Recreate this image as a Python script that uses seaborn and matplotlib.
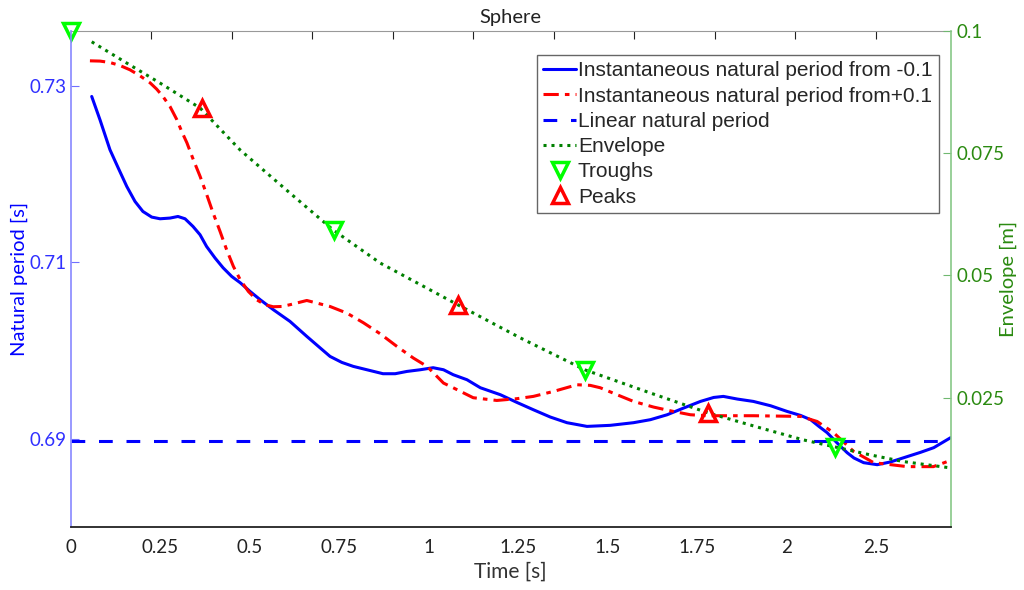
import numpy as np
import seaborn as sns
import matplotlib
matplotlib.use('Agg')
import matplotlib.pyplot as plt

# Instantaneous natural period starting from -0.1
t_neg = [0.058, 0.0811, 0.109, 0.1323, 0.156, 0.179, 0.201, 0.2257, 0.249, 0.2768,
         0.299, 0.3188, 0.341, 0.3607, 0.379, 0.4027, 0.425, 0.4493, 0.473, 0.5006,
         0.529, 0.5657, 0.612, 0.659, 0.6916, 0.724, 0.757, 0.789, 0.8269, 0.872,
         0.906, 0.939, 0.976, 1.012, 1.041, 1.068, 1.1066, 1.144, 1.200, 1.246,
         1.292, 1.3395, 1.386, 1.442, 1.507, 1.572, 1.619, 1.666, 1.712, 1.759,
         1.796, 1.823, 1.862, 1.907, 1.955, 2.001, 2.039, 2.067, 2.090, 2.113,
         2.141, 2.169, 2.188, 2.215, 2.253, 2.290, 2.327, 2.374, 2.411, 2.458]
T_neg = [0.72879, 0.72615, 0.72275, 0.72067, 0.71859, 0.71689, 0.71576, 0.71512, 0.71493, 0.71501,
         0.71519, 0.71493, 0.71406, 0.71312, 0.71179, 0.71048, 0.70938, 0.70839, 0.70768, 0.70669,
         0.70575, 0.70462, 0.70330, 0.70160, 0.70046, 0.69933, 0.69865, 0.69820, 0.69782, 0.69737,
         0.69737, 0.69763, 0.69782, 0.69805, 0.69782, 0.69726, 0.69669, 0.69578, 0.69499, 0.69412,
         0.69329, 0.69246, 0.69182, 0.69140, 0.69152, 0.69182, 0.69216, 0.69272, 0.69348, 0.69423,
         0.69468, 0.69480, 0.69450, 0.69423, 0.69374, 0.69310, 0.69264, 0.69216, 0.69140, 0.69069,
         0.68952, 0.68842, 0.68782, 0.68729, 0.68706, 0.68737, 0.68785, 0.68846, 0.68899, 0.69012]

# Instantaneous natural period starting from +0.1
t_pos = [0.053, 0.0811, 0.109, 0.137, 0.165, 0.193, 0.221, 0.2396, 0.257, 0.2768,
         0.296, 0.3095, 0.324, 0.342, 0.361, 0.3795, 0.397, 0.4167, 0.435, 0.4539,
         0.473, 0.4958, 0.519, 0.5425, 0.565, 0.5892, 0.612, 0.659, 0.724, 0.771,
         0.817, 0.864, 0.911, 0.957, 0.995, 1.041, 1.068, 1.124, 1.190, 1.246,
         1.292, 1.349, 1.414, 1.451, 1.479, 1.526, 1.572, 1.628, 1.683, 1.731,
         1.778, 1.907, 2.039, 2.085, 2.131, 2.187, 2.243, 2.337, 2.410, 2.458]
T_pos = [0.73283, 0.73280, 0.73264, 0.73230, 0.73181, 0.73113, 0.73034, 0.72962, 0.72879, 0.72765,
         0.72615, 0.72482, 0.72354, 0.72162, 0.71972, 0.71765, 0.71561, 0.71349, 0.71142, 0.70953,
         0.70802, 0.70669, 0.70575, 0.70519, 0.70496, 0.70499, 0.70519, 0.70567, 0.70499, 0.70424,
         0.70315, 0.70190, 0.70046, 0.69914, 0.69820, 0.69631, 0.69578, 0.69465, 0.69434, 0.69454,
         0.69480, 0.69537, 0.69612, 0.69605, 0.69578, 0.69499, 0.69423, 0.69359, 0.69310, 0.69272,
         0.69261, 0.69261, 0.69253, 0.69196, 0.69069, 0.68857, 0.68729, 0.68684, 0.68684, 0.68755]

T_linear = 0.6898

# Envelope (right axis)
t_env = [0.058, 0.156, 0.249, 0.361, 0.473, 0.612, 0.733, 0.864, 1.082, 1.256, 1.437, 1.619,
         1.781, 1.927, 2.047, 2.131, 2.234, 2.327, 2.458]
env = [0.09781, 0.09345, 0.08936, 0.08425, 0.07565, 0.06685, 0.05928, 0.05253, 0.04394,
       0.03719, 0.03064, 0.02593, 0.02184, 0.01877, 0.01632, 0.01495, 0.01325, 0.01188, 0.01059]

t_troughs = [0.0, 0.735, 1.437, 2.134]
troughs = [0.1, 0.05928, 0.03064, 0.01495]
t_peaks = [0.365, 1.082, 1.781]
peaks = [0.08425, 0.04394, 0.02184]

x_ticks = [0, 0.25, 0.5, 0.75, 1.0, 1.25, 1.5, 1.75, 2.0, 2.25]
x_tick_labels = ['0', '0.25', '0.5', '0.75', '1', '1.25', '1.5', '1.75', '2', '2.5']
T_ticks = [0.69, 0.71, 0.73]
T_tick_labels = ['0.69', '0.71', '0.73']
env_ticks = [0.025, 0.05, 0.075, 0.1]
env_tick_labels = ['0.025', '0.05', '0.075', '0.1']

sns.set_style('white')
plt.rcParams['font.family'] = ['Lato', 'DejaVu Sans']

fig = plt.figure(figsize=(10.24, 5.9), dpi=100)
ax = fig.add_axes([0.0693, 0.1068, 0.859, 0.8405])
ax2 = ax.twinx()

blue = '#0000ff'
red = '#ff0000'
dgreen = '#008000'
lgreen = '#00ff00'
rnd = dict(solid_joinstyle='round', dash_joinstyle='round')

sns.lineplot(x=t_neg, y=T_neg, ax=ax, color=blue, lw=2.2, sort=False, legend=False,
             label='Instantaneous natural period from -0.1', **rnd)
sns.lineplot(x=t_pos, y=T_pos, ax=ax, color=red, lw=2.2, sort=False, legend=False,
             linestyle=(0, (5, 2, 1.5, 2)), label='Instantaneous natural period from+0.1', **rnd)
ax.axhline(T_linear, color=blue, lw=2.2, linestyle=(0, (4.5, 4.5)),
           label='Linear natural period')

sns.lineplot(x=t_env, y=env, ax=ax2, color=dgreen, lw=2.2, sort=False, legend=False,
             linestyle=(0, (1, 1.6)), label='Envelope')
ax2.plot(t_troughs, troughs, ls='none', marker='v', ms=12, mfc='none', mec=lgreen,
         mew=2.5, label='Troughs', clip_on=False)
ax2.plot(t_peaks, peaks, ls='none', marker='^', ms=12, mfc='none', mec=red,
         mew=2.5, label='Peaks', clip_on=False)

ax.set_xlim(0, 2.458)
ax.set_ylim(0.680, 0.7362)
ax2.set_ylim(-0.0015, 0.1)

ax.set_xticks(x_ticks)
ax.set_xticklabels(x_tick_labels)
ax.set_yticks(T_ticks)
ax.set_yticklabels(T_tick_labels)
ax2.set_yticks(env_ticks)
ax2.set_yticklabels(env_tick_labels)

ax.tick_params(axis='x', direction='in', length=6, width=0.8, colors='#222222', labelsize=13.5, pad=9)
ax.tick_params(axis='y', direction='in', length=6, width=0.8, colors='#7070ff',
               labelcolor='#3030ff', labelsize=13.5, pad=3)
ax2.tick_params(axis='y', direction='in', length=6, width=0.8, colors='#70b870',
                labelcolor='#2a8a10', labelsize=13.5, pad=4)

top = ax.secondary_xaxis('top', functions=(lambda x: x * 1.112, lambda x: x / 1.112))
top.set_xticks(np.arange(0.25, 2.75, 0.25))
top.tick_params(direction='in', length=6, width=0.8, colors='#222222', labeltop=False)

ax.set_xlabel('Time [s]', fontsize=15, color='#333333', labelpad=4)
ax.set_ylabel('Natural period [s]', fontsize=14.5, color=blue, labelpad=1)
ax2.set_ylabel('Envelope [m]', fontsize=14.5, color='#2a8a10', labelpad=-3)
ax.set_title('Sphere', fontsize=14.5, color='#222222', pad=6)

for a in (ax, ax2):
    for s in a.spines.values():
        s.set_visible(False)
ax2.spines['left'].set_visible(True)
ax2.spines['left'].set_color('#8888ff')
ax2.spines['right'].set_visible(True)
ax2.spines['right'].set_color('#88c888')
ax2.spines['bottom'].set_visible(True)
ax2.spines['bottom'].set_color('#222222')
ax2.spines['bottom'].set_linewidth(1.3)
top.spines['top'].set_color('#999999')
for s in ('left', 'right'):
    ax2.spines[s].set_linewidth(1.2)

h1, l1 = ax.get_legend_handles_labels()
h2, l2 = ax2.get_legend_handles_labels()
leg = ax2.legend(h1 + h2, l1 + l2, loc='upper right', bbox_to_anchor=(0.9863, 0.9516),
                 frameon=True, fancybox=False, framealpha=1, edgecolor='#666666',
                 prop={'family': 'Liberation Sans', 'size': 15}, handlelength=1.55,
                 handletextpad=0.1, labelspacing=0.3, borderpad=0.3, borderaxespad=0)
leg.get_frame().set_linewidth(1.0)

fig.savefig('out.png', dpi=100)
